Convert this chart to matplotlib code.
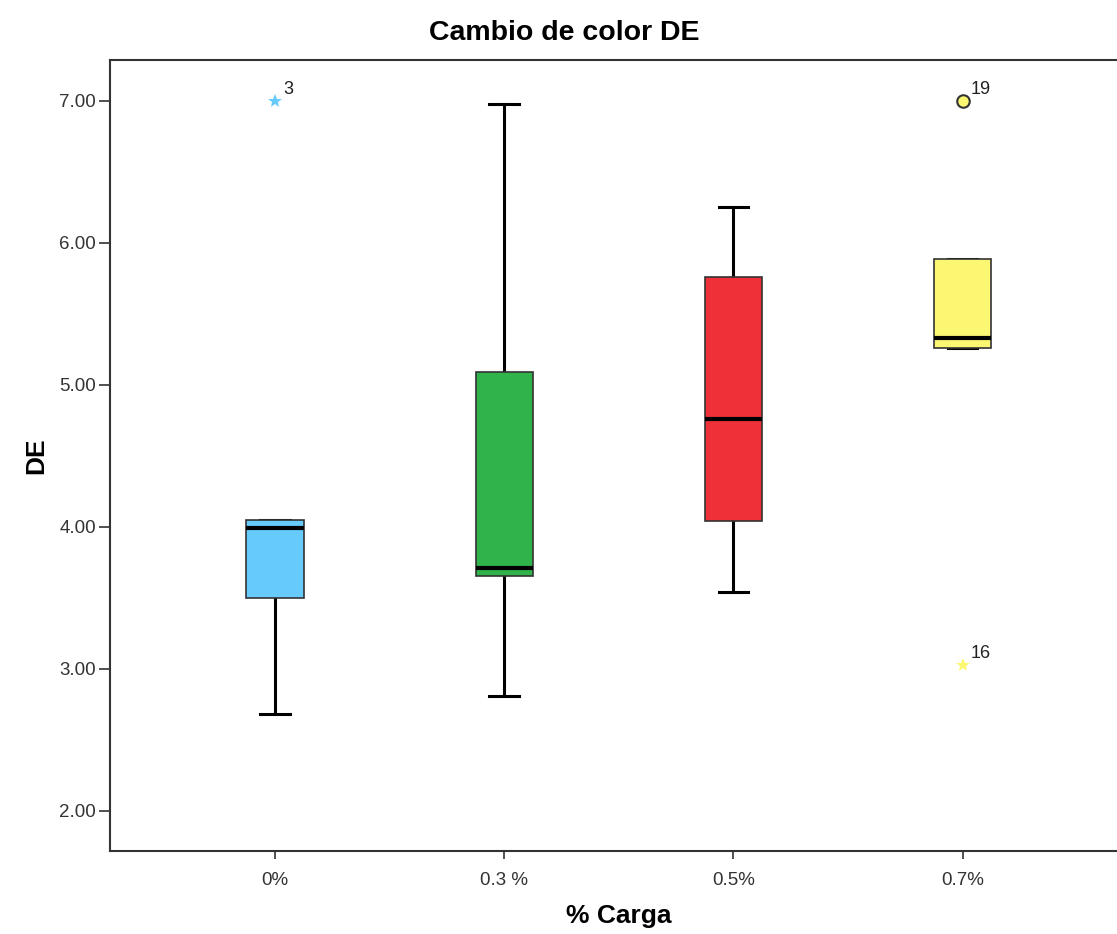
import matplotlib
matplotlib.use('Agg')
from matplotlib import pyplot as plt

plt.rcParams['font.family'] = ['Liberation Sans', 'DejaVu Sans']

# summary values
categories = ['0%', '0.3 %', '0.5%', '0.7%']
q1 = [3.50, 3.655, 4.04, 5.26]
med = [3.99, 3.71, 4.76, 5.33]
q3 = [4.05, 5.09, 5.76, 5.89]
whislo = [2.68, 2.81, 3.54, 5.26]
whishi = [4.05, 6.98, 6.25, 5.89]
colors = ['#66CAFC', '#2FB34A', '#EE3038', '#FBF772']

# outliers: (group index, value, case label, marker)
out_group = [0, 3, 3]
out_value = [7.00, 7.00, 3.03]
out_label = ['3', '19', '16']
out_marker = ['*', 'o', '*']

fig = plt.figure(figsize=(11.17, 9.34), dpi=100)
ax = fig.add_axes([0.0985, 0.0889, 0.911, 0.847])

stats = []
for i in range(len(categories)):
    stats.append({'q1': q1[i], 'med': med[i], 'q3': q3[i],
                  'whislo': whislo[i], 'whishi': whishi[i], 'fliers': []})

bp = ax.bxp(stats, positions=range(len(categories)), widths=0.25,
            patch_artist=True, showfliers=False,
            boxprops=dict(edgecolor='#333333', linewidth=1.2),
            medianprops=dict(color='black', linewidth=3),
            whiskerprops=dict(color='black', linewidth=2.2),
            capprops=dict(color='black', linewidth=2.2),
            capwidths=0.13)
for patch, c in zip(bp['boxes'], colors):
    patch.set_facecolor(c)
    patch.set_zorder(3)
for m in bp['medians']:
    m.set_zorder(4)

for g, v, lab, mk in zip(out_group, out_value, out_label, out_marker):
    if mk == 'o':
        ax.plot(g, v, marker='o', markersize=9, markerfacecolor=colors[g],
                markeredgecolor='#333333', markeredgewidth=1.5, zorder=5)
    else:
        ax.plot(g, v, marker='*', markersize=10, color=colors[g],
                markeredgewidth=0, zorder=5)
    ax.annotate(lab, (g, v), xytext=(6, 5), textcoords='offset points',
                fontsize=13, color='#222222')

ax.set_xlim(-0.72, 3.72)
ax.set_ylim(1.718, 7.289)
ax.set_yticks([2, 3, 4, 5, 6, 7])
ax.set_yticklabels(['%.2f' % t for t in [2, 3, 4, 5, 6, 7]])
ax.set_xticks(range(len(categories)))
ax.set_xticklabels(categories)
ax.tick_params(axis='both', labelsize=13.5, labelcolor='#333333', width=1.2,
               color='#333333')
ax.tick_params(axis='y', length=8, pad=2)
ax.tick_params(axis='x', length=6, pad=9)

for s in ['left', 'top', 'bottom']:
    ax.spines[s].set_linewidth(1.5)
    ax.spines[s].set_color('#333333')
ax.spines['right'].set_visible(False)

fig.text(0.5055, 0.965, 'Cambio de color DE', fontsize=20.5, fontweight='bold',
         ha='center', va='center')
ax.set_xlabel('% Carga', fontsize=19, fontweight='bold', labelpad=11)
ax.set_ylabel('DE', fontsize=19, fontweight='bold', labelpad=8)

fig.savefig('out.png', dpi=100)
